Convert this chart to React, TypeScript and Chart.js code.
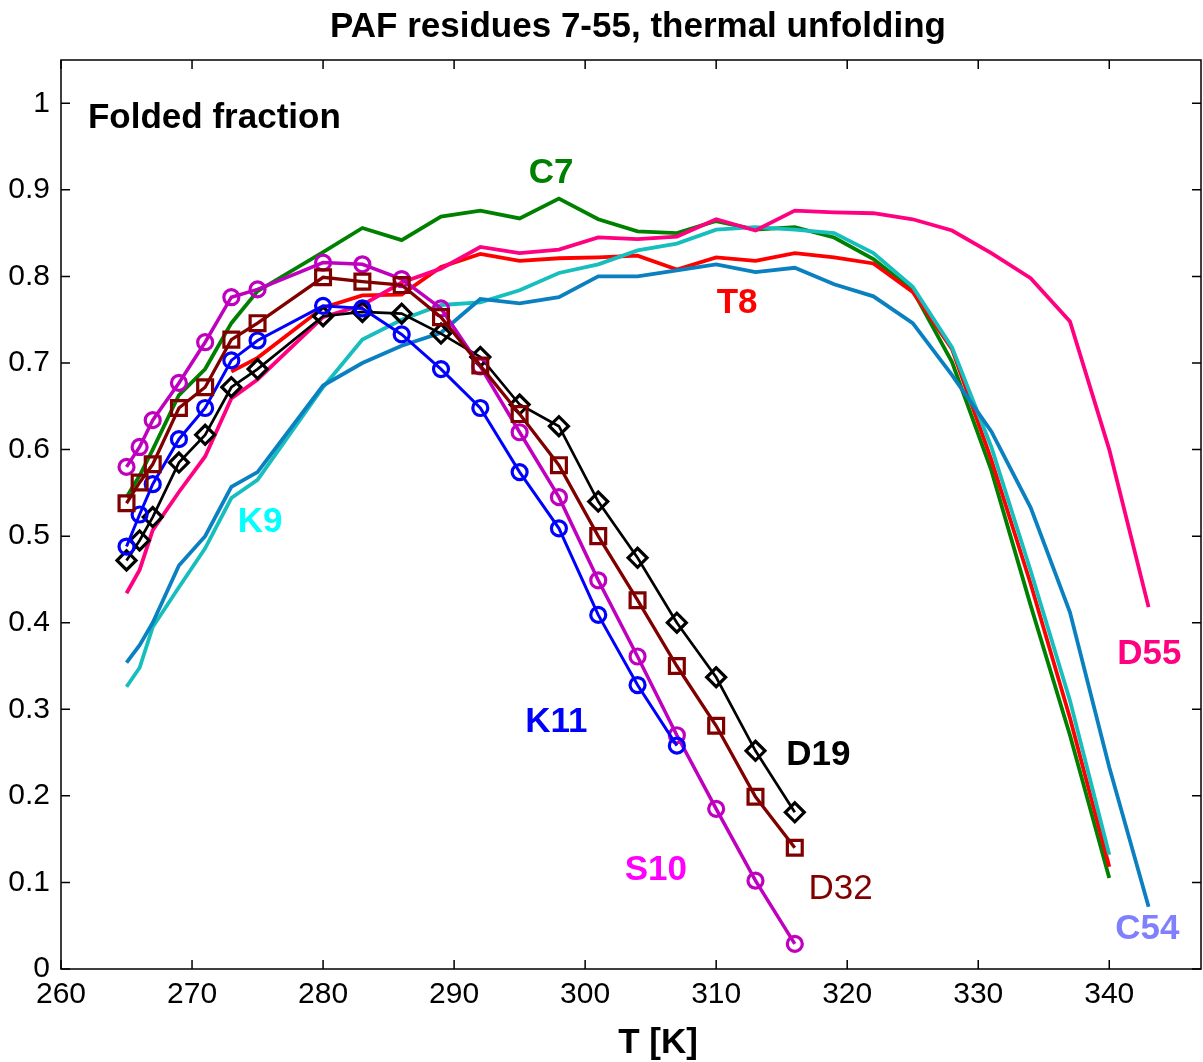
import React, { useEffect, useRef } from "react";
import { Chart, registerables } from "chart.js";

Chart.register(...registerables);

// Temperatures (K)
const T_MARKED = [265, 266, 267, 269, 271, 273, 275, 280, 283, 286, 289, 292, 295, 298, 301, 304, 307, 310, 313, 316];
const T_K11 = [265, 266, 267, 269, 271, 273, 275, 280, 283, 286, 289, 292, 295, 298, 301, 304, 307];
const T_TO_340 = [265, 266, 267, 269, 271, 273, 275, 280, 283, 286, 289, 292, 295, 298, 301, 304, 307, 310, 313, 316, 319, 322, 325, 328, 331, 334, 337, 340];
const T_T8 = [273, 275, 280, 283, 286, 289, 292, 295, 298, 301, 304, 307, 310, 313, 316, 319, 322, 325, 328, 331, 334, 337, 340];
const T_TO_343 = [265, 266, 267, 269, 271, 273, 275, 280, 283, 286, 289, 292, 295, 298, 301, 304, 307, 310, 313, 316, 319, 322, 325, 328, 331, 334, 337, 340, 343];

// Folded fraction per residue
const C7 = [0.545, 0.57, 0.6, 0.663, 0.693, 0.746, 0.783, 0.828, 0.856, 0.842, 0.869, 0.876, 0.867, 0.89, 0.866, 0.852, 0.85, 0.864, 0.854, 0.857, 0.845, 0.82, 0.784, 0.701, 0.576, 0.42, 0.27, 0.105];
const T8 = [0.69, 0.706, 0.764, 0.778, 0.779, 0.811, 0.826, 0.818, 0.821, 0.822, 0.824, 0.808, 0.822, 0.818, 0.827, 0.822, 0.815, 0.782, 0.716, 0.588, 0.445, 0.29, 0.118];
const K9 = [0.326, 0.348, 0.395, 0.441, 0.486, 0.544, 0.565, 0.672, 0.727, 0.75, 0.767, 0.77, 0.784, 0.804, 0.814, 0.83, 0.838, 0.854, 0.857, 0.854, 0.85, 0.827, 0.788, 0.718, 0.603, 0.46, 0.31, 0.132];
const C54 = [0.354, 0.374, 0.4, 0.466, 0.5, 0.557, 0.574, 0.674, 0.7, 0.72, 0.735, 0.774, 0.769, 0.776, 0.8, 0.8, 0.807, 0.814, 0.805, 0.81, 0.791, 0.777, 0.746, 0.686, 0.621, 0.533, 0.412, 0.233, 0.072];
const D55 = [0.434, 0.461, 0.507, 0.551, 0.592, 0.659, 0.681, 0.753, 0.767, 0.793, 0.809, 0.834, 0.827, 0.831, 0.845, 0.843, 0.846, 0.866, 0.853, 0.876, 0.874, 0.873, 0.866, 0.853, 0.827, 0.798, 0.748, 0.6, 0.418];
const D19 = [0.472, 0.495, 0.522, 0.585, 0.617, 0.672, 0.693, 0.754, 0.759, 0.757, 0.734, 0.707, 0.652, 0.627, 0.54, 0.475, 0.4, 0.337, 0.252, 0.181];
const D32 = [0.538, 0.562, 0.583, 0.648, 0.672, 0.727, 0.746, 0.799, 0.794, 0.79, 0.753, 0.697, 0.641, 0.582, 0.5, 0.426, 0.35, 0.281, 0.199, 0.14];
const K11 = [0.488, 0.525, 0.56, 0.612, 0.648, 0.703, 0.726, 0.766, 0.763, 0.733, 0.693, 0.648, 0.574, 0.509, 0.409, 0.328, 0.258];
const S10 = [0.58, 0.603, 0.634, 0.677, 0.724, 0.776, 0.785, 0.816, 0.814, 0.797, 0.763, 0.696, 0.62, 0.545, 0.449, 0.361, 0.27, 0.185, 0.102, 0.029];

// Axis ticks
const X_TICKS = [260, 270, 280, 290, 300, 310, 320, 330, 340];
const Y_TICKS = [0, 0.1, 0.2, 0.3, 0.4, 0.5, 0.6, 0.7, 0.8, 0.9, 1];

// In-plot residue labels
const LABEL_TEXT = ["C7", "T8", "K9", "K11", "D19", "S10", "D32", "D55", "C54"];
const LABEL_X = [297.4, 311.6, 275.2, 297.8, 317.8, 305.4, 319.5, 343.05, 342.9];
const LABEL_Y = [0.919, 0.769, 0.516, 0.285, 0.247, 0.114, 0.092, 0.364, 0.046];
const LABEL_COLOR = ["#008000", "#FF0000", "#00FFFF", "#0000FF", "#000000", "#FF00FF", "#800000", "#FF0080", "#8080FF"];
const LABEL_BOLD = [true, true, true, true, true, true, false, true, true];

const FONT = '"Liberation Sans", Arial, Helvetica, sans-serif';

function pts(xs: number[], ys: number[]) {
  return xs.map((x, i) => ({ x, y: ys[i] }));
}

export default function App() {
  const ref = useRef<HTMLCanvasElement | null>(null);

  useEffect(() => {
    document.body.style.margin = "0";
    const canvas = ref.current!;
    const lineDs = (label: string, xs: number[], ys: number[], color: string, width = 3.8) => ({
      label,
      data: pts(xs, ys),
      borderColor: color,
      backgroundColor: color,
      borderWidth: width,
      pointRadius: 0,
      fill: false,
      tension: 0,
    });
    const markDs = (label: string, xs: number[], ys: number[], color: string, style: any, r: number, width: number) => ({
      label,
      data: pts(xs, ys),
      borderColor: color,
      backgroundColor: color,
      borderWidth: width,
      pointStyle: style,
      pointRadius: r,
      pointBorderColor: color,
      pointBackgroundColor: "rgba(0,0,0,0)",
      pointBorderWidth: 3.2,
      fill: false,
      tension: 0,
    });

    const frame = {
      id: "frame",
      afterDatasetsDraw(chart: any) {
        const { ctx, chartArea: a, scales } = chart;
        const xs = scales.x, ys = scales.y;
        ctx.save();
        ctx.strokeStyle = "#000";
        ctx.lineWidth = 1.5;
        ctx.beginPath();
        ctx.rect(a.left, a.top, a.right - a.left, a.bottom - a.top);
        ctx.stroke();
        const tl = 9;
        ctx.beginPath();
        X_TICKS.forEach((v) => {
          const px = xs.getPixelForValue(v);
          ctx.moveTo(px, a.bottom);
          ctx.lineTo(px, a.bottom - tl);
          ctx.moveTo(px, a.top);
          ctx.lineTo(px, a.top + tl);
        });
        Y_TICKS.forEach((v) => {
          const py = ys.getPixelForValue(v);
          ctx.moveTo(a.left, py);
          ctx.lineTo(a.left + tl, py);
          ctx.moveTo(a.right, py);
          ctx.lineTo(a.right - tl, py);
        });
        ctx.stroke();

        // residue labels
        ctx.textAlign = "center";
        ctx.textBaseline = "middle";
        LABEL_TEXT.forEach((t, i) => {
          ctx.fillStyle = LABEL_COLOR[i];
          ctx.font = `${LABEL_BOLD[i] ? "bold " : ""}35px ${FONT}`;
          ctx.fillText(t, xs.getPixelForValue(LABEL_X[i]), ys.getPixelForValue(LABEL_Y[i]));
        });

        // panel label
        ctx.fillStyle = "#000";
        ctx.textAlign = "left";
        ctx.font = `bold 35px ${FONT}`;
        ctx.fillText("Folded fraction", xs.getPixelForValue(262.06), ys.getPixelForValue(0.983));

        // title and x-axis title
        ctx.textAlign = "center";
        ctx.fillText("PAF residues 7-55, thermal unfolding", 638, 27);
        ctx.fillText("T [K]", 658, 1043);
        ctx.restore();
      },
    };

    const chart = new Chart(canvas, {
      type: "line",
      data: {
        datasets: [
          markDs("D32", T_MARKED, D32, "#800000", "rect", 10.5, 3.3),
          markDs("K11", T_K11, K11, "#0000FF", "circle", 7.5, 3),
          markDs("S10", T_MARKED, S10, "#BF00BF", "circle", 7.5, 3.5),
          markDs("D19", T_MARKED, D19, "#000000", "rectRot", 9.5, 2.7),
          lineDs("D55", T_TO_343, D55, "#FF0080"),
          lineDs("C54", T_TO_343, C54, "#0A80C0"),
          lineDs("K9", T_TO_340, K9, "#17BEBE"),
          lineDs("T8", T_T8, T8, "#FF0000"),
          lineDs("C7", T_TO_340, C7, "#008000"),
        ] as any,
      },
      plugins: [frame],
      options: {
        animation: false,
        responsive: false,
        devicePixelRatio: 1,
        layout: { autoPadding: false, padding: { top: 60, right: 2, left: 0, bottom: 0 } },
        plugins: {
          legend: { display: false },
          title: { display: false },
          tooltip: { enabled: false },
        },
        scales: {
          x: {
            type: "linear",
            min: 260,
            max: 347,
            grid: { display: false, drawTicks: false },
            border: { display: false },
            afterBuildTicks: (s: any) => {
              s.ticks = X_TICKS.map((v) => ({ value: v }));
            },
            afterFit: (s: any) => {
              s.height = 93;
              s.paddingLeft = 0;
              s.paddingRight = 0;
            },
            ticks: {
              color: "#000",
              padding: 8,
              maxRotation: 0,
              autoSkip: false,
              font: { family: FONT, size: 30 },
              callback: (v: any) => String(v),
            },
          },
          y: {
            type: "linear",
            min: 0,
            max: 1.05,
            grid: { display: false, drawTicks: false },
            border: { display: false },
            afterBuildTicks: (s: any) => {
              s.ticks = Y_TICKS.map((v) => ({ value: v }));
            },
            afterFit: (s: any) => {
              s.width = 61;
              s.paddingTop = 0;
              s.paddingBottom = 0;
            },
            ticks: {
              color: "#000",
              padding: 11,
              autoSkip: false,
              font: { family: FONT, size: 30 },
              callback: (v: any) => String(Math.round(v * 10) / 10),
            },
          },
        },
      },
    });
    return () => chart.destroy();
  }, []);

  return (
    <div style={{ width: 1203, height: 1062, background: "#fff" }}>
      <canvas ref={ref} width={1203} height={1062} style={{ display: "block", width: 1203, height: 1062 }} />
    </div>
  );
}
